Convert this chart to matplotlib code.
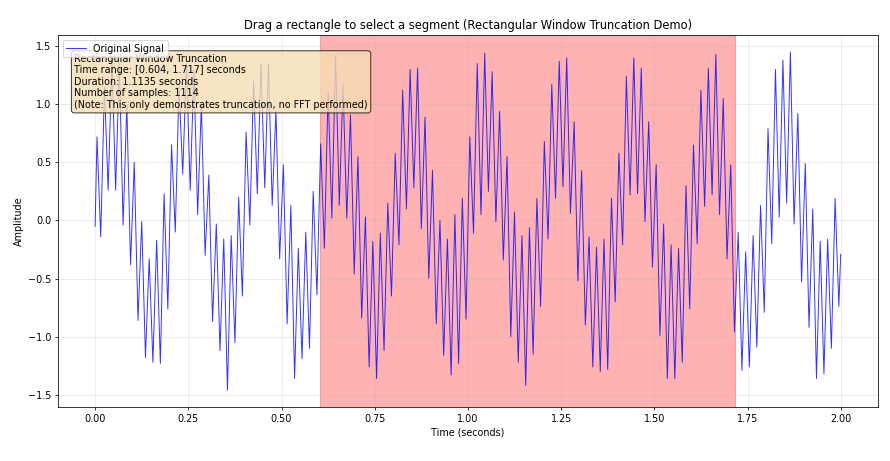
import numpy as np
import matplotlib
matplotlib.use("Agg")
import matplotlib.pyplot as plt

# signal: value at t=0, then the tops and bottoms of the
# fast wiggle (tops at 0.005 + 0.02k s, bottoms at 0.015 + 0.02k s), then t=2
start_value = -0.05
end_value = -0.29

peak_values = [
    0.72, 1.15, 1.40, 1.35, 1.00, 0.50, -0.01, -0.33, -0.17, 0.23,
    0.65, 1.15, 1.35, 1.30, 1.00, 0.39, -0.03, -0.16, -0.13, 0.20,
    0.76, 1.20, 1.35, 1.35, 0.95, 0.48, 0.13, -0.24, -0.10, 0.25,
    0.66, 1.11, 1.42, 1.17, 0.91, 0.55, 0.03, -0.18, -0.11, 0.15,
    0.58, 1.12, 1.30, 1.31, 0.89, 0.43, 0.00, -0.16, 0.05, 0.19,
    0.72, 1.35, 1.44, 1.28, 0.94, 0.55, 0.07, -0.13, -0.06, 0.19,
    0.68, 1.17, 1.37, 1.40, 0.85, 0.43, -0.14, -0.23, -0.16, 0.19,
    0.58, 1.24, 1.40, 1.31, 0.85, 0.48, -0.03, -0.21, -0.24, 0.30,
    0.65, 1.12, 1.31, 1.43, 1.05, 0.48, -0.10, -0.27, -0.13, 0.13,
    0.79, 1.30, 1.38, 1.45, 0.92, 0.49, 0.10, -0.18, -0.16, 0.19,
]

trough_values = [
    -0.14, 0.26, 0.26, -0.04, -0.38, -0.86, -1.18, -1.22, -1.23, -0.76,
    -0.10, 0.40, 0.26, 0.05, -0.30, -0.87, -1.12, -1.46, -1.05, -0.65,
    -0.04, 0.23, 0.28, 0.13, -0.33, -0.89, -1.36, -1.19, -1.10, -0.64,
    -0.24, 0.02, 0.13, 0.02, -0.46, -0.84, -1.26, -1.36, -1.12, -0.65,
    -0.21, 0.10, 0.28, -0.07, -0.50, -0.89, -1.16, -1.33, -1.23, -0.85,
    -0.11, 0.05, 0.25, -0.01, -0.34, -1.00, -1.22, -1.42, -1.15, -0.74,
    -0.16, 0.19, 0.29, 0.06, -0.52, -0.90, -1.26, -1.30, -1.28, -0.70,
    -0.21, 0.22, 0.23, -0.01, -0.40, -0.99, -1.36, -1.36, -1.22, -0.76,
    -0.20, 0.12, 0.22, 0.05, -0.33, -0.96, -1.29, -1.26, -1.09, -0.79,
    -0.20, 0.03, 0.15, -0.03, -0.53, -0.92, -1.36, -1.32, -1.10, -0.74,
]

sel_start = 0.604
sel_end = 1.717
sel_duration = 1.1135
sel_samples = 1114
t_end = 2.0
wiggle_period = 0.02

# build the time/value series
n = len(peak_values)
peak_t = 0.005 + wiggle_period * np.arange(n)
trough_t = 0.015 + wiggle_period * np.arange(n)
t = np.concatenate([[0.0], np.column_stack([peak_t, trough_t]).ravel(), [t_end]])
y = np.concatenate([[start_value],
                    np.column_stack([peak_values, trough_values]).ravel(),
                    [end_value]])

dpi = 69
fig, ax = plt.subplots(figsize=(890 / dpi, 461 / dpi), dpi=dpi)
fig.subplots_adjust(left=0.065, right=0.9865, top=0.924, bottom=0.117)

ax.plot(t, y, 'b-', linewidth=1.0, alpha=0.8, label='Original Signal')
ax.axvspan(sel_start, sel_end, color='red', alpha=0.3)

info = ('Rectangular Window Truncation\n'
        f'Time range: [{sel_start:.3f}, {sel_end:.3f}] seconds\n'
        f'Duration: {sel_duration:.4f} seconds\n'
        f'Number of samples: {sel_samples}\n'
        '(Note: This only demonstrates truncation, no FFT performed)')
ax.text(0.02, 0.95, info, transform=ax.transAxes, fontsize=10,
        va='top', bbox=dict(boxstyle='round', facecolor='wheat', alpha=0.8))

ax.set_title('Drag a rectangle to select a segment (Rectangular Window Truncation Demo)')
ax.set_xlabel('Time (seconds)')
ax.set_ylabel('Amplitude')
ax.grid(True, alpha=0.3)
ax.legend(loc='upper left')

fig.savefig('out.png', dpi=dpi)
